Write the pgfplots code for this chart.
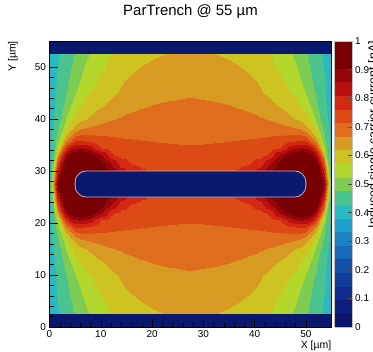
\documentclass[border=0pt]{standalone}
\usepackage{pgfplots}
\pgfplotsset{compat=1.18}
\usepackage{pgfplotstable}
\usepackage{fontspec}
\setmainfont{Liberation Sans}

\definecolor{implant}{RGB}{10,24,110}
\definecolor{trenchedge}{RGB}{185,185,200}

% 20-level rainbow palette, one colour per 0.05 step (last entry repeated for the top end)
\pgfplotsset{
  colormap={rootpal}{
    rgb255=(10,20,105) rgb255=(12,30,125) rgb255=(15,45,140) rgb255=(18,60,155)
    rgb255=(20,80,170) rgb255=(25,105,185) rgb255=(28,130,195) rgb255=(30,160,205)
    rgb255=(40,185,195) rgb255=(75,195,140) rgb255=(125,205,85) rgb255=(180,215,45)
    rgb255=(205,195,35) rgb255=(215,155,35) rgb255=(222,110,28) rgb255=(220,75,22)
    rgb255=(210,40,20) rgb255=(185,15,15) rgb255=(150,5,10) rgb255=(120,0,5)
    rgb255=(120,0,5)
  }
}

% Induced current on one quarter of the cell (x,y in um, 0..27.5); the cell is
% mirror symmetric about x=27.5 and y=27.5.
\pgfplotstableread{
x y v
0 0 0.405
0.5 0 0.412
1 0 0.418
1.5 0 0.425
2 0 0.431
3 0 0.445
4 0 0.462
5 0 0.481
6 0 0.501
7 0 0.514
8 0 0.529
9 0 0.543
10 0 0.554
12 0 0.571
14 0 0.588
16 0 0.602
18 0 0.609
20 0 0.614
22.5 0 0.619
25 0 0.623
27.5 0 0.626
0 2.5 0.405
0.5 2.5 0.412
1 2.5 0.418
1.5 2.5 0.425
2 2.5 0.431
3 2.5 0.445
4 2.5 0.462
5 2.5 0.481
6 2.5 0.501
7 2.5 0.514
8 2.5 0.529
9 2.5 0.543
10 2.5 0.554
12 2.5 0.571
14 2.5 0.588
16 2.5 0.602
18 2.5 0.609
20 2.5 0.614
22.5 2.5 0.619
25 2.5 0.623
27.5 2.5 0.626
0 5 0.405
0.5 5 0.4125
1 5 0.420
1.5 5 0.4275
2 5 0.435
3 5 0.451
4 5 0.471
5 5 0.492
6 5 0.510
7 5 0.526
8 5 0.542
9 5 0.555
10 5 0.564
12 5 0.584
14 5 0.602
16 5 0.612
18 5 0.620
20 5 0.626
22.5 5 0.631
25 5 0.635
27.5 5 0.637
0 7.5 0.406
0.5 7.5 0.414
1 7.5 0.423
1.5 7.5 0.431
2 7.5 0.439
3 7.5 0.4585
4 7.5 0.482
5 7.5 0.5045
6 7.5 0.523
7 7.5 0.542
8 7.5 0.556
9 7.5 0.568
10 7.5 0.579
12 7.5 0.601
14 7.5 0.615
16 7.5 0.626
18 7.5 0.634
20 7.5 0.640
22.5 7.5 0.644
25 7.5 0.647
27.5 7.5 0.649
0 10 0.407
0.5 10 0.416
1 10 0.426
1.5 10 0.435
2 10 0.444
3 10 0.470
4 10 0.498
5 10 0.521
6 10 0.544
7 10 0.5605
8 10 0.575
9 10 0.589
10 10 0.601
12 10 0.612
14 10 0.623
16 10 0.634
18 10 0.645
20 10 0.652
22.5 10 0.656
25 10 0.659
27.5 10 0.662
0 12.5 0.408
0.5 12.5 0.419
1 12.5 0.430
1.5 12.5 0.441
2 12.5 0.453
3 12.5 0.487
4 12.5 0.5195
5 12.5 0.551
6 12.5 0.5695
7 12.5 0.589
8 12.5 0.603
9 12.5 0.610
10 12.5 0.616
12 12.5 0.630
14 12.5 0.643
16 12.5 0.655
18 12.5 0.663
20 12.5 0.668
22.5 12.5 0.672
25 12.5 0.674
27.5 12.5 0.676
0 15 0.410
0.5 15 0.423
1 15 0.437
1.5 15 0.451
2 15 0.472
3 15 0.516
4 15 0.557
5 15 0.587
6 15 0.606
7 15 0.616
8 15 0.626
9 15 0.636
10 15 0.646
12 15 0.662
14 15 0.672
16 15 0.679
18 15 0.683
20 15 0.686
22.5 15 0.688
25 15 0.689
27.5 15 0.689
0 17 0.412
0.5 17 0.428
1 17 0.444
1.5 17 0.467
2 17 0.495
3 17 0.554
4 17 0.605
5 17 0.639
6 17 0.666
7 17 0.673
8 17 0.682
9 17 0.687
10 17 0.691
12 17 0.6966
14 17 0.698
16 17 0.6985
18 17 0.699
20 17 0.699
22.5 17 0.7005
25 17 0.701
27.5 17 0.701
0 19 0.414
0.5 19 0.434
1 19 0.458
1.5 19 0.497
2 19 0.538
3 19 0.642
4 19 0.696
5 19 0.751
6 19 0.755
7 19 0.749
8 19 0.740
9 19 0.734
10 19 0.728
12 19 0.721
14 19 0.718
16 19 0.716
18 19 0.714
20 19 0.7125
22.5 19 0.711
25 19 0.7105
27.5 19 0.710
0 20.5 0.416
0.5 20.5 0.439
1 20.5 0.478
1.5 20.5 0.537
2 20.5 0.614
3 20.5 0.755
4 20.5 0.826
5 20.5 0.855
6 20.5 0.860
7 20.5 0.855
8 20.5 0.833
9 20.5 0.792
10 20.5 0.760
12 20.5 0.738
14 20.5 0.7315
16 20.5 0.728
18 20.5 0.725
20 20.5 0.722
22.5 20.5 0.720
25 20.5 0.718
27.5 20.5 0.7175
0 22 0.418
0.5 22 0.447
1 22 0.514
1.5 22 0.618
2 22 0.726
3 22 0.852
4 22 0.924
5 22 0.965
6 22 0.970
7 22 0.955
8 22 0.930
9 22 0.902
10 22 0.865
12 22 0.773
14 22 0.745
16 22 0.7395
18 22 0.736
20 22 0.731
22.5 22 0.729
25 22 0.727
27.5 22 0.725
0 23.5 0.420
0.5 23.5 0.465
1 23.5 0.592
1.5 23.5 0.725
2 23.5 0.812
3 23.5 0.951
4 23.5 0.975
5 23.5 0.985
6 23.5 0.985
7 23.5 0.980
8 23.5 0.970
9 23.5 0.957
10 23.5 0.931
12 23.5 0.852
14 23.5 0.784
16 23.5 0.757
18 23.5 0.746
20 23.5 0.741
22.5 23.5 0.738
25 23.5 0.736
27.5 23.5 0.7325
0 25 0.425
0.5 25 0.505
1 25 0.658
1.5 25 0.795
2 25 0.870
3 25 0.965
4 25 0.985
5 25 0.990
6 25 0.990
7 25 0.990
8 25 0.980
9 25 0.970
10 25 0.955
12 25 0.902
14 25 0.833
16 25 0.790
18 25 0.770
20 25 0.752
22.5 25 0.746
25 25 0.743
27.5 25 0.740
0 26.25 0.430
0.5 26.25 0.522
1 26.25 0.714
1.5 26.25 0.842
2 26.25 0.940
3 26.25 0.975
4 26.25 0.990
5 26.25 0.995
6 26.25 0.990
7 26.25 0.990
8 26.25 0.980
9 26.25 0.970
10 26.25 0.955
12 26.25 0.902
14 26.25 0.833
16 26.25 0.790
18 26.25 0.770
20 26.25 0.752
22.5 26.25 0.746
25 26.25 0.743
27.5 26.25 0.740
0 27.5 0.440
0.5 27.5 0.575
1 27.5 0.767
1.5 27.5 0.905
2 27.5 0.960
3 27.5 0.980
4 27.5 0.990
5 27.5 0.995
6 27.5 0.990
7 27.5 0.990
8 27.5 0.980
9 27.5 0.970
10 27.5 0.955
12 27.5 0.902
14 27.5 0.833
16 27.5 0.790
18 27.5 0.770
20 27.5 0.752
22.5 27.5 0.746
25 27.5 0.743
27.5 27.5 0.740
}\fieldquarter

\begin{document}
\begin{tikzpicture}
\useasboundingbox (0,0) rectangle (373bp,352bp);
\begin{axis}[
  name=main,
  at={(49.5bp,25bp)}, anchor=south west,
  scale only axis, width=282bp, height=286bp,
  xmin=0, xmax=55, ymin=0, ymax=55,
  xtick={0,10,...,50}, ytick={0,10,...,50},
  minor x tick num=4, minor y tick num=4,
  xtick pos=left, ytick pos=left,
  tick align=inside,
  major tick length=8bp, minor tick length=4bp,
  tick style={black, line width=0.5bp},
  axis line style={black, line width=0.6bp},
  axis on top,
  /pgf/number format/assume math mode=true,
  tick label style={font=\fontsize{10}{12}\selectfont},
  title={ParTrench @ 55 µm},
  title style={at={(axis description cs:0.5,1)}, anchor=base, yshift=19.5bp,
    font=\fontsize{15}{18}\selectfont},
  xlabel={X [µm]},
  xlabel style={at={(axis description cs:1,0)}, anchor=north east, yshift=-13.5bp,
    inner sep=0pt, font=\fontsize{10.5}{12}\selectfont},
  ylabel={Y [µm]},
  ylabel style={at={(axis description cs:-0.112,1)}, anchor=south east,
    inner sep=0pt, font=\fontsize{10.5}{12}\selectfont},
  colormap name=rootpal,
  colormap access=piecewise constant,
  point meta min=0, point meta max=1,
  colorbar,
  colorbar style={
    width=18bp,
    at={(parent axis.north east)}, anchor=north west, xshift=-5.5bp,
    ytick={0,0.1,0.2,0.3,0.4,0.5,0.6,0.7,0.8,0.9,1},
    yticklabel pos=right, ytick pos=right,
    tick align=inside, major tick length=5bp,
    tick style={black!70, line width=0.5bp},
    axis line style={draw=black!25, line width=0.4bp},
    /pgf/number format/assume math mode=true,
    /pgf/number format/fixed,
    /pgf/number format/precision=1,
    yticklabel style={font=\fontsize{10}{12}\selectfont, inner xsep=2.5bp},
  },
]
% the four mirrored quarters of the cell
\addplot[surf, shader=interp, mesh/cols=21, point meta=explicit]
  table[x=x, y=y, meta=v] {\fieldquarter};
\addplot[surf, shader=interp, mesh/cols=21, point meta=explicit]
  table[x expr=55-\thisrow{x}, y=y, meta=v] {\fieldquarter};
\addplot[surf, shader=interp, mesh/cols=21, point meta=explicit]
  table[x=x, y expr=55-\thisrow{y}, meta=v] {\fieldquarter};
\addplot[surf, shader=interp, mesh/cols=21, point meta=explicit]
  table[x expr=55-\thisrow{x}, y expr=55-\thisrow{y}, meta=v] {\fieldquarter};

% implants at the bottom and top of the cell
\addplot[fill=implant, draw=none] coordinates {(0,0) (55,0) (55,2.5) (0,2.5)} -- cycle;
\addplot[fill=implant, draw=none] coordinates {(0,52.5) (55,52.5) (55,55) (0,55)} -- cycle;
% trench
\addplot[fill=implant, draw=trenchedge, line width=0.8bp, rounded corners=11bp]
  coordinates {(5,25) (50,25) (50,30) (5,30)} -- cycle;
\end{axis}
\node[rotate=90, anchor=north east, inner sep=0pt, font=\fontsize{12.5}{15}\selectfont]
  at ([xshift=36.5bp]main.north east) {Induced single carrier current [nA]};
\end{tikzpicture}
\end{document}
